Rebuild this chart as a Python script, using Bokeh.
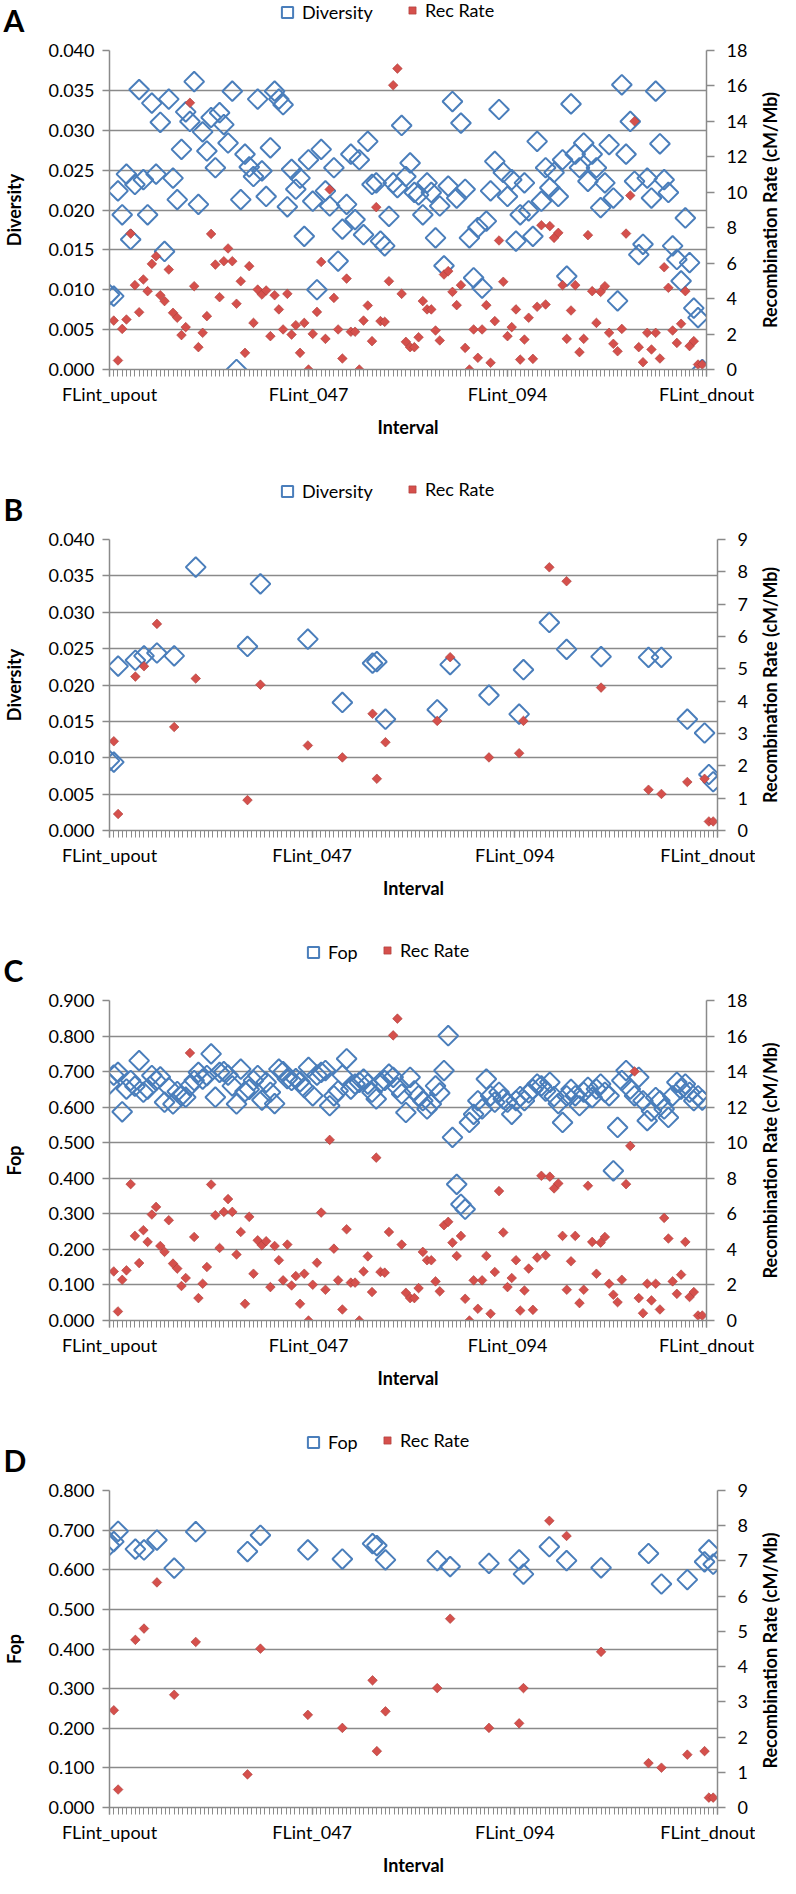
import math
from bokeh.plotting import figure
from bokeh.models import (Range1d, LinearAxis, FixedTicker, NumeralTickFormatter,
                          Legend, LegendItem, Label)
from bokeh.layouts import column, row
from bokeh.embed import file_html
from bokeh.resources import INLINE

nan = float("nan")

# ---------------- data ----------------
intervals = ["FLint_upout"] + ["FLint_%03d" % k for k in range(1, 141)] + ["FLint_dnout"]
label_intervals = ["FLint_upout", "FLint_047", "FLint_094", "FLint_dnout"]

diversity = [
    0.0094, 0.0092, 0.0224, 0.0194, 0.0245, 0.0163, 0.0232, 0.0351, 0.0238, 0.0194,
    0.0334, 0.0245, 0.0310, 0.0148, 0.0339, 0.0240, 0.0213, 0.0276, 0.0323, 0.0311,
    0.0361, 0.0207, 0.0298, 0.0274, 0.0316, 0.0253, 0.0322, 0.0307, 0.0284, 0.0349,
    0.0000, 0.0213, 0.0270, 0.0254, 0.0242, 0.0339, 0.0249, 0.0217, 0.0278, 0.0349,
    0.0339, 0.0332, 0.0204, 0.0251, 0.0226, 0.0240, 0.0167, 0.0263, 0.0211, 0.0100,
    0.0276, 0.0224, 0.0205, 0.0253, 0.0136, 0.0176, 0.0207, 0.0270, 0.0188, 0.0263,
    0.0169, 0.0286, 0.0232, 0.0234, 0.0161, 0.0155, 0.0192, 0.0234, 0.0228, 0.0306,
    0.0242, 0.0259, 0.0222, 0.0219, 0.0194, 0.0234, 0.0222, 0.0165, 0.0205, 0.0130,
    0.0230, 0.0336, 0.0215, 0.0309, 0.0226, 0.0165, 0.0115, 0.0178, 0.0102, 0.0186,
    0.0224, 0.0261, 0.0326, 0.0247, 0.0217, 0.0238, 0.0161, 0.0194, 0.0234, 0.0199,
    0.0167, 0.0286, 0.0211, 0.0253, 0.0228, 0.0247, 0.0217, 0.0263, 0.0117, 0.0333,
    0.0270, 0.0253, 0.0284, 0.0236, 0.0270, 0.0253, 0.0203, 0.0234, 0.0282, 0.0215,
    0.0086, 0.0357, 0.0270, 0.0311, 0.0236, 0.0144, 0.0157, 0.0240, 0.0215, 0.0349,
    0.0283, 0.0238, 0.0222, 0.0155, 0.0138, 0.0111, 0.0190, 0.0134, 0.0077, 0.0065,
    0.0000, nan,
]

fop = [
    0.665, 0.690, 0.698, 0.587, 0.651, 0.675, 0.659, 0.731, 0.642, 0.651,
    0.689, 0.675, 0.685, 0.614, 0.655, 0.609, 0.644, 0.632, 0.628, 0.660,
    0.675, 0.698, 0.679, 0.689, 0.750, 0.628, 0.698, 0.700, 0.690, 0.660,
    0.609, 0.707, 0.644, 0.650, 0.675, 0.689, 0.620, 0.670, 0.642, 0.610,
    0.707, 0.700, 0.680, 0.675, 0.680, 0.671, 0.655, 0.712, 0.632, 0.690,
    0.698, 0.703, 0.604, 0.632, 0.646, 0.690, 0.736, 0.651, 0.665, 0.670,
    0.679, 0.665, 0.642, 0.623, 0.670, 0.675, 0.693, 0.684, 0.655, 0.637,
    0.585, 0.684, 0.646, 0.632, 0.618, 0.595, 0.609, 0.660, 0.640, 0.703,
    0.801, 0.515, 0.383, 0.327, 0.313, 0.557, 0.580, 0.618, 0.595, 0.679,
    0.632, 0.614, 0.642, 0.623, 0.614, 0.580, 0.618, 0.630, 0.618, 0.640,
    0.650, 0.665, 0.660, 0.645, 0.670, 0.630, 0.610, 0.557, 0.632, 0.650,
    0.632, 0.604, 0.642, 0.656, 0.627, 0.651, 0.665, 0.642, 0.632, 0.421,
    0.543, 0.675, 0.703, 0.651, 0.632, 0.684, 0.618, 0.562, 0.589, 0.627,
    0.618, 0.595, 0.571, 0.632, 0.670, 0.651, 0.665, 0.642, 0.618, 0.632,
    0.620, nan,
]

rec_rate = [
    nan, 2.76, 0.51, 2.29, 2.82, 7.67, 4.76, 3.23, 5.08, 4.42,
    5.96, 6.39, 4.19, 3.86, 5.64, 3.20, 2.92, 1.94, 2.39, 15.05,
    4.70, 1.26, 2.07, 3.01, 7.65, 5.92, 4.08, 6.11, 6.83, 6.11,
    3.71, 4.98, 0.94, 5.83, 2.63, 4.51, 4.23, 4.46, 1.88, 4.19,
    3.39, 2.26, 4.27, 1.97, 2.50, 0.94, 2.63, 0.00, 2.01, 3.25,
    6.07, 1.73, 10.16, 4.04, 2.26, 0.62, 5.13, 2.13, 2.13, 0.00,
    2.76, 3.61, 1.60, 9.16, 2.73, 2.69, 4.98, 16.04, 16.98, 4.27,
    1.56, 1.26, 1.26, 1.82, 3.86, 3.39, 3.39, 2.20, 1.64, 5.36,
    5.55, 4.38, 3.63, 4.76, 1.22, 0.00, 2.26, 0.66, 2.26, 3.63,
    0.38, 2.73, 7.28, 4.95, 1.88, 2.39, 3.39, 0.56, 1.69, 2.92,
    0.60, 3.54, 8.14, 3.67, 8.09, 7.43, 7.71, 4.76, 1.73, 3.33,
    4.76, 0.98, 1.73, 7.58, 4.42, 2.63, 4.38, 4.70, 2.07, 1.45,
    1.03, 2.29, 7.67, 9.82, 14.01, 1.26, 0.41, 2.07, 1.13, 2.07,
    0.62, 5.77, 4.61, 2.20, 1.50, 2.58, 4.42, 1.32, 1.60, 0.28,
    0.28, nan,
]

# intervals shown in panels B and D
subset = [0, 1, 2, 6, 8, 11, 15, 20, 32, 35, 46, 54, 61, 62, 64, 76, 79, 88,
          95, 96, 102, 106, 114, 125, 128, 134, 138, 139, 140]
diversity_sub = [0.0096, 0.0094, 0.0226, 0.0234, 0.0240, 0.0244, 0.0240, 0.0362,
                 0.0253, 0.0339, 0.0263, 0.0176, 0.0230, 0.0232, 0.0153, 0.0166,
                 0.0228, 0.0186, 0.0160, 0.0221, 0.0286, 0.0249, 0.0239, 0.0238,
                 0.0238, 0.0153, 0.0134, 0.0077, 0.0067]
fop_sub = [0.662, 0.671, 0.697, 0.652, 0.650, 0.675, 0.604, 0.696, 0.646, 0.687,
           0.650, 0.627, 0.666, 0.661, 0.625, 0.623, 0.608, 0.616, 0.625, 0.589,
           0.658, 0.623, 0.605, 0.641, 0.564, 0.575, 0.620, 0.650, 0.614]
rec_sub = [rec_rate[i] for i in subset]
right_title = "Recombination Rate (cM/Mb)"

# ---------------- style ----------------
FONT = "Lato"
GRID = "#8a8a8a"
BLUE = "#4A7EBB"
RED = "#D5504C"
RED_LINE = "#A93B38"
W = 780
LEFT = 105
SIDE = 25

x_all = list(range(len(intervals)))

blue_style = dict(marker="square", angle=math.pi / 4, fill_color=None,
                  line_color=BLUE, line_width=2)
red_style = dict(marker="square", angle=math.pi / 4, fill_color=RED,
                 line_color=RED_LINE, line_width=0.6)


def blank_fig(w, h):
    p = figure(width=w, height=h, x_range=Range1d(0, w), y_range=Range1d(0, h),
               x_axis_location=None, y_axis_location=None, min_border=0,
               output_backend="svg", toolbar_location=None, tools="",
               background_fill_color="white", border_fill_color="white")
    if "frame_align" in p.properties():
        p.frame_align = False
    p.outline_line_color = None
    p.grid.visible = False
    return p


def style_axis(ax, out=7):
    ax.axis_line_color = GRID
    ax.axis_line_width = 1.5
    ax.major_tick_line_color = GRID
    ax.major_tick_line_width = 1.5
    ax.major_tick_out = out
    ax.major_tick_in = 0
    ax.minor_tick_line_color = GRID
    ax.minor_tick_line_width = 1
    ax.minor_tick_out = out
    ax.minor_tick_in = 0
    ax.major_label_text_font = FONT
    ax.major_label_text_font_size = "18px"
    ax.major_label_text_color = "black"
    ax.axis_label_text_font = FONT
    ax.axis_label_text_font_size = "18px"
    ax.axis_label_text_font_style = "bold"
    ax.axis_label_text_color = "black"


def make_header(letter, left_title, h, blue_x, red_x):
    p = blank_fig(W, h)
    r1 = p.scatter([-50], [-50], size=14, **blue_style)
    r2 = p.scatter([-50], [-50], size=7, **red_style)
    yc = h - 12
    common = dict(orientation="horizontal", border_line_color=None,
                  background_fill_alpha=0, label_text_font=FONT,
                  label_text_font_size="18px", padding=0, margin=0,
                  label_text_color="black")
    g1 = 28
    p.add_layout(Legend(items=[LegendItem(label=left_title, renderers=[r1])],
                        location=(blue_x - 8 - g1 / 2, yc - g1 / 2),
                        glyph_width=g1, glyph_height=g1, label_height=g1,
                        label_standoff=1, **common))
    g2 = 18
    p.add_layout(Legend(items=[LegendItem(label="Rec Rate", renderers=[r2])],
                        location=(red_x - 8 - g2 / 2, yc - g2 / 2),
                        glyph_width=g2, glyph_height=g2, label_height=g2,
                        label_standoff=4, **common))
    p.add_layout(Label(x=3, y=18.5, text=letter, text_font=FONT,
                       text_font_size="30px", text_font_style="bold",
                       text_baseline="middle", text_align="left",
                       text_color="black"))
    return p


def make_side(h, top, frame_h):
    p = blank_fig(SIDE, h)
    p.add_layout(Label(x=SIDE / 2 + 2, y=h - top - frame_h / 2, text=right_title,
                       angle=math.pi / 2, text_align="center",
                       text_baseline="middle", text_font=FONT,
                       text_font_size="18px", text_font_style="bold",
                       text_color="black"))
    return p


def make_panel(left_title, xl, yl, xr, yr, lmax, lstep, rmax, rstep,
               frame_h, top, bottom, frame_w):
    h = top + frame_h + bottom
    pw = W - SIDE
    p = figure(width=pw, height=h,
               x_range=Range1d(0, len(intervals) - 1), y_range=Range1d(0, lmax),
               min_border_left=LEFT, min_border_right=pw - LEFT - frame_w,
               min_border_top=top, min_border_bottom=bottom,
               output_backend="svg", toolbar_location=None, tools="",
               background_fill_color="white", border_fill_color="white")
    p.outline_line_color = None
    p.extra_y_ranges = {"rec": Range1d(0, rmax)}

    p.scatter(xl, yl, size=14, **blue_style)
    p.scatter(xr, yr, size=6.8, y_range_name="rec", **red_style)

    # x axis
    xa = p.xaxis[0]
    style_axis(xa)
    label_pos = [intervals.index(n) for n in label_intervals]
    xa.ticker = FixedTicker(ticks=label_pos, minor_ticks=x_all)
    xa.major_label_overrides = {i: intervals[i] for i in label_pos}
    xa.axis_label = "Interval"
    xa.major_label_standoff = 6
    xa.axis_label_standoff = 8
    p.xgrid.visible = False

    # left axis
    ya = p.yaxis[0]
    style_axis(ya)
    nl = int(round(lmax / lstep))
    ya.ticker = FixedTicker(ticks=[round(k * lstep, 4) for k in range(nl + 1)])
    ya.formatter = NumeralTickFormatter(format="0.000")
    ya.axis_label = left_title
    ya.major_label_standoff = 8
    ya.axis_label_standoff = 20
    p.ygrid.grid_line_color = GRID
    p.ygrid.grid_line_width = 1.5

    # right axis
    ra = LinearAxis(y_range_name="rec",
                    ticker=FixedTicker(ticks=list(range(0, rmax + 1, rstep))))
    style_axis(ra, out=8)
    ra.major_label_standoff = 12
    p.add_layout(ra, "right")
    return row(p, make_side(h, top, frame_h), spacing=0)


hA = make_header("A", "Diversity", 38, 295, 420)
pA = make_panel("Diversity", x_all, diversity, x_all, rec_rate,
                0.04, 0.005, 18, 2, 319, 12, 110, 601)
hB = make_header("B", "Diversity", 48, 295, 420)
pB = make_panel("Diversity", subset, diversity_sub, subset, rec_sub,
                0.04, 0.005, 9, 1, 291, 12, 110, 612)
hC = make_header("C", "Fop", 48, 321, 395)
pC = make_panel("Fop", x_all, fop, x_all, rec_rate,
                0.9, 0.1, 18, 2, 320, 12, 110, 601)
hD = make_header("D", "Fop", 48, 321, 395)
pD = make_panel("Fop", subset, fop_sub, subset, rec_sub,
                0.8, 0.1, 9, 1, 320, 12, 68, 612)

layout = column(hA, pA, hB, pB, hC, pC, hD, pD, spacing=0)
open("out.html", "w").write(file_html(layout, INLINE))
